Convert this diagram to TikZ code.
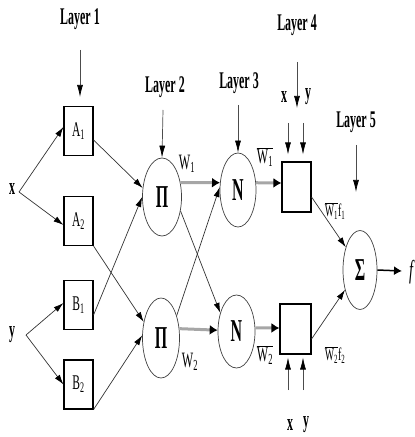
\documentclass[tikz,border=0pt]{standalone}
\usepackage{fontspec}
\setmainfont{Liberation Serif}[FakeStretch=0.55, BoldFeatures={FakeStretch=0.5}]
\usetikzlibrary{arrows.meta,shapes.geometric}

\newcommand{\fs}[1]{\fontsize{#1}{#1}\selectfont}

\tikzset{
  x=1bp, y=-1bp,
  cell/.style={draw, line width=1.1bp, inner sep=0pt, minimum width=29bp, minimum height=49bp, font=\fs{21}},
  unit/.style={ellipse, draw=black!75, line width=0.7bp, inner sep=0pt, minimum width=37bp, minimum height=77bp, font=\fs{32}\bfseries},
  lbl/.style={inner sep=0pt, font=\fs{24}\bfseries},
  wlbl/.style={inner sep=0pt, font=\fs{22}},
  flbl/.style={inner sep=0pt, font=\fs{18}},
  link/.style={draw=black!80, line width=0.7bp, -{Latex[length=10bp,width=6bp,color=black]}},
  down/.style={draw=black!70, line width=0.7bp, -{Latex[length=12bp,width=6bp,color=black]}},
  heavy/.style={draw=black!35, line width=3bp, -{Latex[length=8bp,width=10bp,color=black]}},
}

\begin{document}
\begin{tikzpicture}
\useasboundingbox (0,0) rectangle (414,437);

% layer titles
\node[lbl] (t1) at (80,19) {Layer 1};
\node[lbl] (t2) at (165,87) {Layer 2};
\node[lbl] (t3) at (239,83) {Layer 3};
\node[lbl] (t4) at (297,25) {Layer 4};
\node[lbl] (t5) at (356,122) {Layer 5};

% inputs
\node[lbl] (x) at (12,189) {x};
\node[lbl] (y) at (12,335) {y};
\coordinate (xb) at (19,192);
\coordinate (yb) at (26,335);

% layer 1: membership cells
\node[cell] (A1) at (78.5,131) {A\textsubscript{1}};
\node[cell] (A2) at (78.5,221) {A\textsubscript{2}};
\node[cell] (B1) at (78.5,305) {B\textsubscript{1}};
\node[cell] (B2) at (78.5,384.5) {B\textsubscript{2}};

% layer 2: product units
\node[unit, minimum width=39bp, minimum height=78bp] (P1) at (162,197) {Π};
\node[unit, minimum height=80bp] (P2) at (161,338) {Π};

% layer 3: normalisation units
\node[unit, minimum width=36bp, minimum height=74bp] (N1) at (238,190) {N};
\node[unit, minimum height=73bp] (N2) at (236.5,331.5) {N};

% layer 4: consequent cells
\node[cell, minimum height=50bp] (C1) at (296.5,187) {};
\node[cell, minimum width=31bp, minimum height=50bp] (C2) at (295.5,329) {};

% layer 5: summation
\node[unit, minimum width=34bp, minimum height=79bp] (S) at (360,270) {Σ};
\coordinate (out) at (402,271);
\node[inner sep=0pt, anchor=west, font=\fs{26}\itshape] (f) at (409,272) {f};

% layer arrows
\coordinate (d1a) at (80,50);  \coordinate (d1b) at (80,97);
\coordinate (d2a) at (163,110);
\coordinate (d3a) at (238,105);
\coordinate (d4a) at (297,62); \coordinate (d4b) at (297,108);
\coordinate (d5a) at (356,145); \coordinate (d5b) at (356,192);
\draw[down] (d1a) -- (d1b);
\draw[down] (d2a) -- (P1.north);
\draw[down] (d3a) -- (N1.north);
\draw[down] (d4a) -- (d4b);
\draw[down] (d5a) -- (d5b);

% x, y feeding the consequent cells
\node[lbl] (x4) at (284,97) {x};
\node[lbl] (y4) at (308,97) {y};
\coordinate (xa) at (288,123); \coordinate (ya) at (303,123);
\draw[down, shorten >=7bp] (xa) -- (xa |- C1.north);
\draw[down, shorten >=7bp] (ya) -- (ya |- C1.north);
\node[lbl] (x5) at (290,425) {x};
\node[lbl] (y5) at (306,425) {y};
\coordinate (xc) at (288,390); \coordinate (yc) at (303,390);
\draw[down, shorten >=3bp] (xc) -- (xc |- C2.south);
\draw[down, shorten >=3bp] (yc) -- (yc |- C2.south);

% inputs to layer 1
\draw[link] (xb) -- ([yshift=4bp]A1.west);
\draw[link] (xb) -- ([yshift=-4bp]A2.west);
\draw[link] (yb) -- ([yshift=2bp]B1.west);
\draw[link] (yb) -- (B2.west);

% layer 1 to layer 2
\draw[link] ([yshift=-9bp]A1.east) -- (P1.155);
\draw[link] ([yshift=-10bp]B1.east) -- (P1.180);
\draw[link] (A2.south east) -- (P2.137);
\draw[link] (B2.south east) -- (P2.172);

% layer 2 to layer 3
\draw[heavy] (P1.38) -- (N1.158);
\draw[heavy] (P2.27) -- (N2.176);
\draw[link] (P1.-37) -- (N2.131);
\draw[link] (P2.55) -- (N1.171);

% layer 3 to layer 4
\draw[heavy] (N1.22) -- ([yshift=4bp]C1.west);
\draw[heavy] (N2.11) -- ([yshift=1bp]C2.west);

% layer 4 to layer 5
\draw[link] ([yshift=-10bp]C1.east) -- (S.122);
\draw[link] ([yshift=-10bp]C2.east) -- (S.233);
\draw[draw=black, line width=1.5bp, -{Latex[length=8bp,width=9bp]}] (S.east) -- (out);

% weights
\node[wlbl] (w1) at (187,164) {W\textsubscript{1}};
\node[wlbl] (w2) at (190,362) {W\textsubscript{2}};
\node[wlbl] (wn1) at (265,157) {$\overline{\mbox{W\textsubscript{1}}}$};
\node[wlbl] (wn2) at (265,355) {$\overline{\mbox{W\textsubscript{2}}}$};
\node[flbl] (wf1) at (335,211) {$\overline{\mbox{W\textsubscript{1}}}$f\textsubscript{1}};
\node[flbl] (wf2) at (335,355) {$\overline{\mbox{W\textsubscript{2}}}$f\textsubscript{2}};
\end{tikzpicture}
\end{document}
